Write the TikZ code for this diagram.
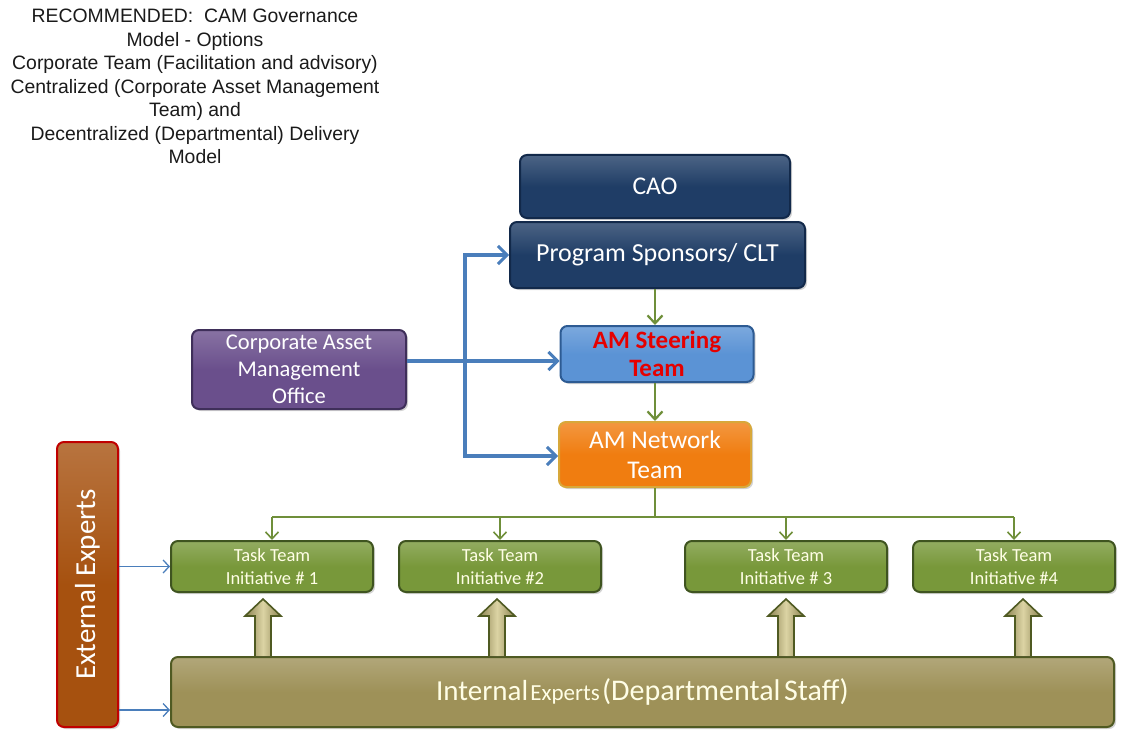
\documentclass[tikz,border=0pt]{standalone}
\usepackage{fontspec}
\setmainfont{Carlito}
\newfontfamily\arialf{Liberation Sans}
\usetikzlibrary{arrows.meta,shadows,calc}
\definecolor{navy}{HTML}{1F3D66}
\definecolor{navyd}{HTML}{12294A}
\definecolor{steer}{HTML}{5B93D5}
\definecolor{steerd}{HTML}{2D5B93}
\definecolor{netor}{HTML}{F07D10}
\definecolor{netord}{HTML}{D8A83A}
\definecolor{purp}{HTML}{6A4F8C}
\definecolor{purpd}{HTML}{3F2F5A}
\definecolor{taskg}{HTML}{78983A}
\definecolor{taskgd}{HTML}{3F5420}
\definecolor{intk}{HTML}{9E9158}
\definecolor{intkd}{HTML}{4F5A22}
\definecolor{extb}{HTML}{A6510F}
\definecolor{extr}{HTML}{C00000}
\definecolor{blk}{HTML}{B4AA6E}
\definecolor{blkl}{HTML}{DCD4A4}
\definecolor{blkd}{HTML}{8A8150}
\definecolor{bluec}{HTML}{4A7EBB}
\definecolor{greenc}{HTML}{6F8F3A}
\definecolor{titlec}{HTML}{1A1A1A}
\tikzset{
  box/.style={rounded corners=7pt, line width=2pt, align=center, inner sep=2pt,
    drop shadow={shadow xshift=2pt,shadow yshift=-2pt,opacity=0.35}},
  shadebox/.style={top color=#1!80!white, bottom color=#1, middle color=#1},
  bluearr/.style={draw=bluec, line width=3.4pt, -{Straight Barb[length=9pt,width=18pt,line width=3pt]}},
  blueline/.style={draw=bluec, line width=3.4pt},
  thinblue/.style={draw=bluec, line width=1.3pt, -{Straight Barb[length=6pt,width=13pt,line width=1.3pt]}},
  greenarr/.style={draw=greenc, line width=2.4pt, -{Straight Barb[length=8pt,width=15pt,line width=2.2pt]}},
  treearr/.style={draw=greenc, line width=1.8pt, -{Straight Barb[length=7pt,width=13pt,line width=1.6pt]}},
  treeline/.style={draw=greenc, line width=1.8pt},
  blockarrow/.style={left color=blkd, right color=blkd, middle color=blkl, draw=intkd, line width=1.6pt, line join=miter},
  tasktxt/.style={font=\fontsize{18.5}{23}\selectfont, text=white!90!yellow}
}
\begin{document}
\begin{tikzpicture}[x=1pt,y=-1pt]
\useasboundingbox (0,0) rectangle (1121,730);
% title
\node[align=center, text=titlec, font=\arialf\fontsize{19.4}{23.5}\selectfont] (title) at (195,86.5)
  {RECOMMENDED:\ \ CAM Governance\\Model - Options\\Corporate Team (Facilitation and advisory)\\Centralized (Corporate Asset Management\\Team) and\\Decentralized (Departmental) Delivery\\Model};
% top nodes
\node[box, shadebox=navy, draw=navyd, minimum width=270, minimum height=63, text=white,
  font=\fontsize{25.5}{30}\selectfont] (cao) at (655,186.5) {CAO};
\node[box, shadebox=navy, draw=navyd, minimum width=295, minimum height=66, text=white,
  font=\fontsize{26}{30}\selectfont] (ps) at (657.5,255) {Program Sponsors/ CLT};
\node[box, shadebox=steer, draw=steerd, minimum width=193, minimum height=56, text=red!90!black,
  font=\bfseries\fontsize{25}{28}\selectfont] (steer) at (657,354) {AM Steering\\Team};
\node[box, shadebox=netor, draw=netord, minimum width=192, minimum height=65, text=white,
  font=\fontsize{25.5}{30}\selectfont] (net) at (655,454.5) {AM Network\\Team};
\node[box, shadebox=purp, draw=purpd, minimum width=214, minimum height=79, text=white,
  font=\fontsize{22.5}{27}\selectfont] (camo) at (299,369.5) {Corporate Asset\\Management\\Office};
% task nodes
\node[box, shadebox=taskg, draw=taskgd, minimum width=202, minimum height=51, tasktxt] (t1) at (272,566.5) {Task Team\\Initiative \# 1};
\node[box, shadebox=taskg, draw=taskgd, minimum width=202, minimum height=51, tasktxt] (t2) at (500,566.5) {Task Team\\Initiative \#2};
\node[box, shadebox=taskg, draw=taskgd, minimum width=202, minimum height=51, tasktxt] (t3) at (786,566.5) {Task Team\\Initiative \# 3};
\node[box, shadebox=taskg, draw=taskgd, minimum width=202, minimum height=51, tasktxt] (t4) at (1014,566.5) {Task Team\\Initiative \#4};
% internal / external
\node[box, shadebox=intk, draw=intkd, minimum width=943, minimum height=70, text=white!90!yellow] (int) at (642.5,692)
  {{\fontsize{29}{30}\selectfont Internal} {\fontsize{23}{30}\selectfont Experts} {\fontsize{30}{30}\selectfont (Departmental\hspace{0.12em}Staff)}};
\node[box, rotate=90, shadebox=extb, draw=extr, minimum width=285, minimum height=61, text=white,
  font=\fontsize{29}{30}\selectfont] (ext) at (87.5,584.5) {External Experts};
% blue connectors
\coordinate (j) at (465,361);
\draw[blueline] (camo.east |- j) -- (j);
\draw[bluearr] (j) |- (ps.west);
\draw[bluearr] (j) -- (steer.west |- j);
\draw[bluearr] (j) |- ($(net.west)+(0,1.5)$);
% green vertical
\draw[greenarr] (ps.south -| net.north) -- (steer.north -| net.north);
\draw[greenarr] (steer.south -| net.north) -- (net.north);
% tree
\coordinate (tb) at ($(net.south)+(0,29)$);
\draw[treeline] (net.south) -- (tb);
\draw[treeline] (t1.north |- tb) -- (t4.north |- tb);
\foreach \t in {t1,t2,t3,t4}{
  \draw[treearr] (\t.north |- tb) -- (\t.north);
}
% block arrows
\foreach \t/\d in {t1/-9,t2/-3,t3/0,t4/9}{
  \filldraw[blockarrow] ($(\t.south |- int.north)+(\d-8,0)$) -- ++(0,-40) -- ++(-10,0)
    -- ($(\t.south)+(\d,6)$) -- ($(\t.south |- int.north)+(\d+18,-40)$) -- ++(-10,0)
    -- ($(\t.south |- int.north)+(\d+8,0)$);
}
% external thin arrows
\draw[thinblue] (ext.south |- t1.west) -- (t1.west);
\coordinate (ia) at ($(int.west)+(0,18)$);
\draw[thinblue] (ext.south |- ia) -- (ia);
\end{tikzpicture}
\end{document}
